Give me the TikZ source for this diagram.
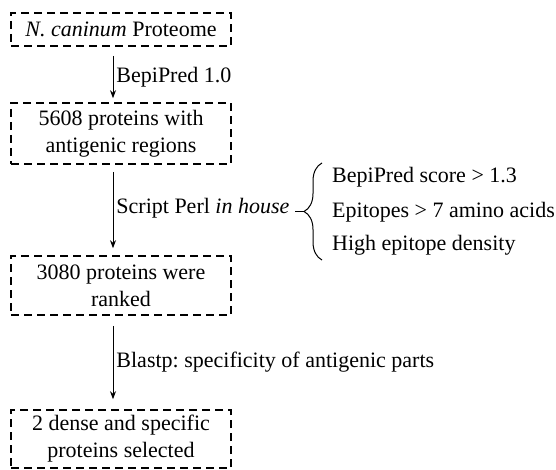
\documentclass[tikz,border=0pt]{standalone}
\usepackage{fontspec}
\setmainfont{Liberation Serif}
\usetikzlibrary{arrows.meta,decorations.pathreplacing}
\frenchspacing

\begin{document}
\begin{tikzpicture}[
        x                       = 1pt,
        y                       = -1pt,
        font                    = \fontsize{22}{27}\selectfont,
        stepbox/.style          = {draw, line width=1.6pt, dash pattern=on 8pt off 5pt,
                                   minimum width=220pt, minimum height=59pt,
                                   align=center, inner sep=2pt},
        flow/.style             = {line width=0.9pt, -{Stealth[length=8pt,width=6pt]}},
        lbl/.style              = {right, inner sep=3pt},
        % criteria
        crit/.style             = {anchor=west, inner sep=0pt}
      ]
        \useasboundingbox (0,0) rectangle (556,470);

        \node[stepbox, minimum height=33pt] (prot) at (121,29.5) {\textit{N. caninum} Proteome};
        \node[stepbox, minimum height=61pt] (anti) at (121,133.5) {5608 proteins with\\antigenic regions};
        \node[stepbox] (rank) at (121,285.5) {3080 proteins were\\ranked};
        \node[stepbox, minimum height=58pt] (sel) at (121,439) {2 dense and specific\\proteins selected};

        \draw[flow, shorten <=9pt, shorten >=4pt] ([xshift=-8pt]prot.south) -- ([xshift=-8pt]anti.north)
            node[lbl, midway, yshift=-3pt] {BepiPred 1.0};
        \draw[flow, shorten <=7pt, shorten >=7pt] ([xshift=-8pt]anti.south) -- ([xshift=-8pt]rank.north)
            node[lbl, midway, yshift=2pt] (perl) {Script Perl \textit{in house}};
        \draw[flow, shorten <=10pt, shorten >=10pt] ([xshift=-8pt]rank.south) -- ([xshift=-8pt]sel.north)
            node[lbl, midway] {Blastp: specificity of antigenic parts};

        \node[crit] (score) at (332,177) {BepiPred score > 1.3};
        \node[crit] (len) at (332,212) {Epitopes > 7 amino acids};
        \node[crit] (dens) at (332,245) {High epitope density};

        % brace
        \draw[line width=1pt, decorate, decoration={brace, amplitude=18pt}]
            (322,260) -- (322,163);
        \draw[line width=1pt] (304,211.5) -- (295,211.5);
    \end{tikzpicture}
\end{document}
